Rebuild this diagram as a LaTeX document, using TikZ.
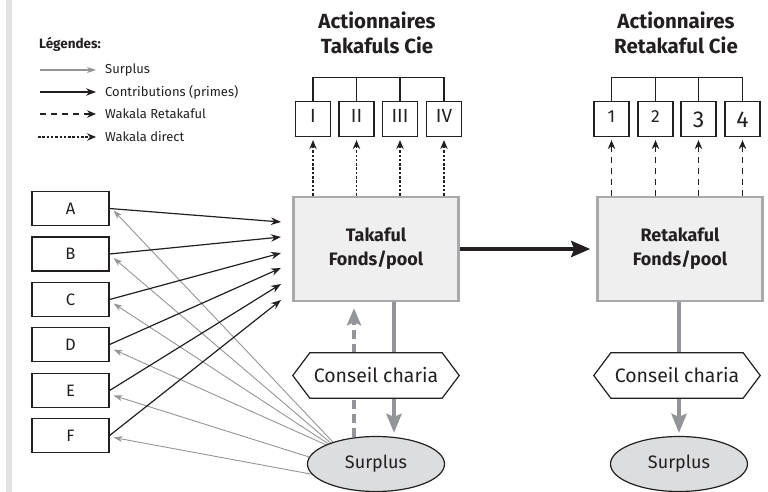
\documentclass[tikz,border=0pt]{standalone}
\usepackage{fontspec}
\setmainfont{Fira Sans}
\usetikzlibrary{arrows.meta,calc,shapes.geometric}
\pgfdeclarelayer{back}
\pgfdeclarelayer{mid}
\pgfsetlayers{back,mid,main}
\definecolor{ink}{HTML}{231F20}
\definecolor{gline}{HTML}{939598}
\definecolor{gborder}{HTML}{A7A9AC}
\definecolor{gfill}{HTML}{EFEFF0}
\definecolor{efill}{HTML}{DCDDDE}
\definecolor{gbar}{HTML}{E1E2E3}
\newcommand{\lownum}[1]{\raisebox{-5pt}{\fontsize{23}{23}\selectfont #1}}
\begin{document}
\begin{tikzpicture}[x=1pt,y=-1pt,
  every node/.style={text=ink},
  sbox/.style={draw=ink, line width=1.2pt, minimum width=77pt, minimum height=34pt, inner sep=0pt, font=\fontsize{16.5}{18}\selectfont},
  shbox/.style={draw=ink, line width=1.2pt, minimum width=35pt, minimum height=35pt, inner sep=0pt, text height=13pt, text depth=5pt, font=\fontsize{19}{20}\selectfont},
  numbox/.style={shbox, font=\fontsize{17.5}{20}\selectfont},
  fund/.style={draw=gborder, fill=gfill, line width=2.5pt, minimum width=165pt, minimum height=104pt, align=center, font=\bfseries\fontsize{18}{24}\selectfont},
  surp/.style={ellipse, draw=ink, fill=efill, line width=1.2pt, minimum width=137pt, minimum height=55pt, inner sep=0pt, font=\fontsize{18}{21}\selectfont},
  hexa/.style={draw=ink, fill=white, line width=1.2pt},
  hexlabel/.style={minimum width=166pt, minimum height=45pt, inner sep=0pt, font=\fontsize{19.5}{21}\selectfont},
  title/.style={anchor=base, font=\bfseries\fontsize{20.5}{22}\selectfont},
  legtext/.style={anchor=west, font=\fontsize{13}{16}\selectfont, inner sep=0pt},
  contrib/.style={draw=ink, line width=1.2pt, -{Stealth[length=10pt,width=7.5pt]}},
  surplusarr/.style={draw=gline, line width=0.9pt, -{Stealth[length=9pt,width=6pt]}},
  wdirect/.style={draw=ink, line width=1.1pt, dash pattern=on 2.5pt off 1.8pt, -{Stealth[length=9pt,width=7.5pt]}},
  wretak/.style={draw=ink, line width=1.1pt, dash pattern=on 6pt off 5pt, -{Stealth[length=9pt,width=7.5pt]}},
  branch/.style={draw=ink, line width=1.2pt},
  bigarrow/.style={draw=ink, line width=4.5pt, -{Stealth[length=19pt,width=16pt,inset=3pt]}},
  grayflow/.style={draw=gline, line width=4.5pt, -{Stealth[length=19pt,width=15pt,inset=3pt]}},
  graydash/.style={draw=gline, line width=4.5pt, dash pattern=on 9pt off 5pt, -{Stealth[length=17pt,width=14pt,inset=3pt]}}
]
\useasboundingbox (0,0) rectangle (768,492);
\fill[gbar] (6,0) rectangle (12,492);

% legend
\node[anchor=west, inner sep=0pt, font=\bfseries\fontsize{13.5}{16}\selectfont] (leg) at (39,44) {Légendes:};
\coordinate (l1a) at (40,70);  \coordinate (l1b) at (96,70);
\coordinate (l2a) at (40,92);  \coordinate (l2b) at (96,92);
\coordinate (l3a) at (40,114); \coordinate (l3b) at (96,114);
\coordinate (l4a) at (38,137); \coordinate (l4b) at (96,137);
\node[legtext] (t1) at (105,70) {Surplus};
\node[legtext] (t2) at (105,92) {Contributions (primes)};
\node[legtext] (t3) at (105,114) {Wakala Retakaful};
\node[legtext] (t4) at (105,137) {Wakala direct};
\draw[surplusarr, line width=1.1pt] (l1a) -- (l1b);
\draw[contrib] (l2a) -- (l2b);
\draw[wretak] (l3a) -- (l3b);
\draw[wdirect] (l4a) -- (l4b);

% titles
\node[title] (ta1) at (377,29) {Actionnaires};
\node[title] (ta2) at (377,54) {Takafuls Cie};
\node[title] (tb1) at (676,29) {Actionnaires};
\node[title] (tb2) at (676,54) {Retakaful Cie};

% shareholder boxes
\node[shbox] (I) at (313,119) {I};
\node[shbox] (II) at (356.5,119) {II};
\node[shbox] (III) at (400,119) {III};
\node[shbox] (IV) at (444,119) {IV};
\node[numbox] (n1) at (611.5,119) {1};
\node[numbox] (n2) at (655.5,119) {2};
\node[numbox] (n3) at (698.5,119) {\lownum{3}};
\node[numbox] (n4) at (742.5,119) {\lownum{4}};

\draw[branch] (I.north) -- ($(I.north)+(0,-23)$) -- ($(IV.north)+(0,-23)$) -- (IV.north);
\draw[branch] (II.north) -- ($(II.north)+(0,-23)$);
\draw[branch] (III.north) -- ($(III.north)+(0,-23)$);
\draw[branch] (n1.north) -- ($(n1.north)+(0,-23)$) -- ($(n4.north)+(0,-23)$) -- (n4.north);
\draw[branch] (n2.north) -- ($(n2.north)+(0,-23)$);
\draw[branch] (n3.north) -- ($(n3.north)+(0,-23)$);

% funds
\node[fund] (tk) at (376,249) {Takaful\\Fonds/pool};
\node[fund] (rt) at (680,249) {Retakaful\\Fonds/pool};

\foreach \b in {I,II,III,IV}{
  \draw[wdirect] (\b.south |- tk.north) -- ([yshift=-3pt]\b.south);
}
\foreach \b in {n1,n2,n3,n4}{
  \draw[wretak] (\b.south |- rt.north) -- ([yshift=-3pt]\b.south);
}

\draw[bigarrow, shorten >=6pt] (tk.east) -- (rt.west);

% participants
\node[sbox] (A) at (70.5,208.5) {A};
\node[sbox] (B) at (70.5,254) {B};
\node[sbox] (C) at (70.5,299.5) {C};
\node[sbox] (D) at (70.5,344.5) {D};
\node[sbox] (E) at (70.5,390.5) {E};
\node[sbox] (F) at (70.5,435.5) {F};

\coordinate (cA) at (281,222);
\coordinate (cB) at (281,237);
\coordinate (cC) at (281,253);
\coordinate (cD) at (281,268);
\coordinate (cE) at (281,284);
\coordinate (cF) at (281,300);
\foreach \b in {A,B,C,D,E,F}{
  \draw[contrib] (\b.east) -- (c\b);
}

% surplus ellipses
\node[surp] (sL) at (376,464) {Surplus};
\node[surp] (sR) at (679,464) {Surplus};

% hexagon labels
\node[hexlabel] (hL) at (376,375.5) {Conseil charia};
\node[hexlabel] (hR) at (677,375.5) {Conseil charia};

\begin{pgfonlayer}{mid}
\foreach \h in {hL,hR}{
  \draw[hexa] (\h.west) -- ([xshift=17pt]\h.north west) -- ([xshift=-17pt]\h.north east)
    -- (\h.east) -- ([xshift=-17pt]\h.south east) -- ([xshift=17pt]\h.south west) -- cycle;
}
\end{pgfonlayer}

\begin{pgfonlayer}{back}
\draw[grayflow] ([xshift=18pt]tk.south) -- ([xshift=18pt,yshift=3pt]sL.north);
\draw[graydash] ([xshift=-22pt,yshift=-1pt]sL.north) -- ([xshift=-22pt,yshift=-6pt]tk.south);
\draw[grayflow] ([xshift=-1pt]rt.south) -- ([yshift=3pt]sR.north);
\draw[surplusarr] (sL.153) -- ([xshift=4pt,yshift=-2pt]A.east);
\draw[surplusarr] (sL.155) -- ([xshift=4pt,yshift=-4pt]B.east);
\draw[surplusarr] (sL.157) -- ([xshift=4pt,yshift=-4pt]C.east);
\draw[surplusarr] (sL.159) -- ([xshift=4pt,yshift=-5pt]D.east);
\draw[surplusarr] (sL.174) -- ([xshift=4pt,yshift=-5pt]E.east);
\draw[surplusarr] (sL.189) -- ([xshift=4pt,yshift=-2pt]F.east);
\end{pgfonlayer}
\end{tikzpicture}
\end{document}
